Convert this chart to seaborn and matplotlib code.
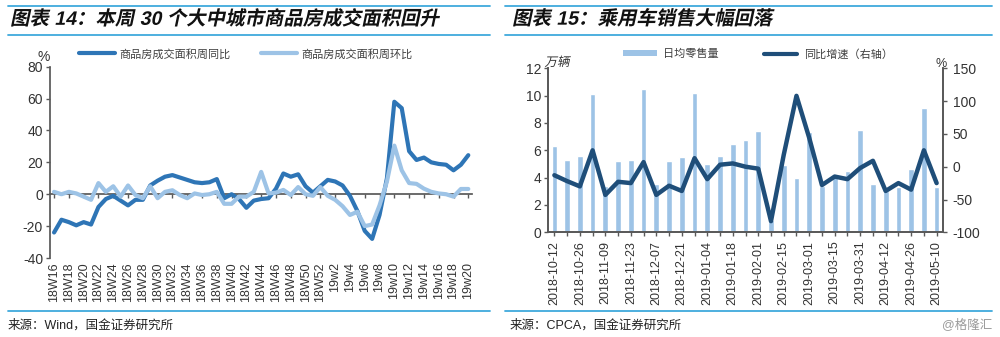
import numpy as np
import pandas as pd
import matplotlib
matplotlib.use("Agg")
import matplotlib.pyplot as plt
import seaborn as sns
from matplotlib.lines import Line2D
from matplotlib.patches import Patch
from matplotlib import patheffects
from matplotlib.transforms import Affine2D

# ---------------- data ----------------
weeks = [f"18W{w}" for w in range(16, 53)] + [f"19w{w}" for w in range(1, 21)]
yoy_area = [-24, -16, -17.5, -19.5, -17.5, -19, -8, -3, -1, -4,
            -7, -3.5, -3.5, 5.5, 8.5, 11, 12, 10.5, 9, 7.5,
            7, 7.5, 9.5, -2.5, 0, -3, -8.5, -4, -3, -2.5,
            3.5, 13, 11, 12.5, 5, 1, 5, 9, 8, 5.5,
            -1, -10.5, -23, -28, -13, 10, 58, 54, 27, 21.5,
            23, 20, 19, 18.5, 15, 18.5, 24.5]
wow_area = [1.5, 0, 1.5, 0.5, -1.5, -3.5, 7, 1.5, 5, -1.5,
            5.5, -0.5, -2.5, 5, -2.5, 1.5, 2.5, -0.5, -2.5, 0.5,
            -0.5, 0, 1.5, -6, -6, -1.5, -1.5, 1.5, 14, 0.5,
            1, 2.7, -0.5, 4.5, 0, -1, 4.5, -1, -3.5, -7.5,
            -13, -11, -20, -19, -7, 8, 30.5, 15, 7, 6.5,
            3.5, 1.5, 0.5, 0, -1.5, 3.3, 3.3]
left_series = ["商品房成交面积周同比", "商品房成交面积周环比"]
left_yticks = [-40, -20, 0, 20, 40, 60, 80]

dates = ["2018-10-12", "2018-10-19", "2018-10-26", "2018-11-02", "2018-11-09",
         "2018-11-16", "2018-11-23", "2018-11-30", "2018-12-07", "2018-12-14",
         "2018-12-21", "2018-12-28", "2019-01-04", "2019-01-11", "2019-01-18",
         "2019-01-25", "2019-02-01", "2019-02-08", "2019-02-15", "2019-02-22",
         "2019-03-01", "2019-03-08", "2019-03-15", "2019-03-22", "2019-03-31",
         "2019-04-07", "2019-04-12", "2019-04-19", "2019-04-26", "2019-05-03",
         "2019-05-10"]
daily_retail = [6.3, 5.3, 5.6, 10.1, 3.4, 5.2, 5.3, 10.5, 3.5, 5.2,
                5.5, 10.2, 5.0, 5.6, 6.45, 6.75, 7.4, 0.9, 4.95, 3.95,
                7.35, 3.4, 4.1, 4.45, 7.45, 3.5, 3.0, 3.35, 4.6, 9.1,
                3.3]
retail_yoy = [-13, -22, -30, 25, -43, -23, -25, 7, -43, -29,
              -37, 13, -19, 3, 5, 0, -3, -83, 18, 108,
              44, -28, -15, -19, -2, 9, -37, -25, -35, 25,
              -25]
right_series = ["日均零售量", "同比增速（右轴）"]
right_yticks_l = [0, 2, 4, 6, 8, 10, 12]
right_yticks_r = [-100, -50, 0, 50, 100, 150]

# ---------------- style ----------------
sns.set_theme(style="white")
plt.rcParams["font.family"] = ["Liberation Sans", "Noto Sans CJK SC", "DejaVu Sans"]
plt.rcParams["axes.unicode_minus"] = False

C_DARK = "#2E75B6"
C_LIGHT = "#9DC3E6"
C_NAVY = "#1F4E79"
C_RULE = "#3FA9DC"
C_TXT = "#333333"
C_AX = "#595959"


class Oblique(patheffects.AbstractPathEffect):
    def __init__(self, deg=12):
        super().__init__()
        self._skew = Affine2D().skew_deg(deg, 0)

    def draw_path(self, renderer, gc, tpath, affine, rgbFace=None):
        renderer.draw_path(gc, tpath, self._skew + affine, rgbFace)


fig = plt.figure(figsize=(10, 3.37), dpi=100)

def fx(px):
    return px / 1000.0

def fy(py):
    return 1 - py / 337.0

# ---------------- left chart ----------------
ax = fig.add_axes([fx(50), fy(258), fx(422), fy(66.7) - fy(258)])
n = len(weeks)
df_left = pd.DataFrame({
    "idx": list(range(n)) * 2,
    "value": yoy_area + wow_area,
    "series": [left_series[0]] * n + [left_series[1]] * n,
})
sns.lineplot(data=df_left, x="idx", y="value", hue="series",
             hue_order=left_series, palette=[C_DARK, C_LIGHT],
             linewidth=3, ax=ax, legend=False, zorder=3)
ax.set_xlim(-0.55, n - 0.5)
ax.set_ylim(-40, 80)
ax.set_yticks(left_yticks)
ax.set_yticklabels([str(v) for v in left_yticks])
ax.set_xlabel("")
ax.set_ylabel("")
for s in ["top", "right"]:
    ax.spines[s].set_visible(False)
ax.spines["left"].set_color(C_AX)
ax.spines["bottom"].set_color(C_AX)
ax.spines["bottom"].set_position(("data", 0))
ax.set_xticks(list(range(0, n, 2)))
ax.tick_params(axis="x", labelbottom=False, bottom=True, length=3, width=1,
               color=C_AX, direction="out")
ax.tick_params(axis="y", left=True, length=3, width=1, color=C_AX,
               labelsize=10, labelcolor=C_TXT, pad=2)
sec = ax.secondary_xaxis(0.0)
sec.set_xticks(list(range(0, n, 2)))
sec.set_xticklabels([weeks[i] for i in range(0, n, 2)], rotation=90)
sec.tick_params(length=0, labelsize=9, labelcolor=C_TXT, pad=3)
sec.spines["bottom"].set_visible(False)
fig.text(fx(44), fy(57), "%", ha="center", va="center", fontsize=10, color=C_TXT)

leg_l = fig.legend(handles=[Line2D([], [], color=C_DARK, lw=3),
                            Line2D([], [], color=C_LIGHT, lw=3)],
                   labels=left_series, loc="center",
                   bbox_to_anchor=(fx(246), fy(54)), ncol=2, frameon=False,
                   fontsize=8, handlelength=3.2, handletextpad=0.45,
                   columnspacing=2.7, labelcolor="#404040")

# ---------------- right chart ----------------
axr = fig.add_axes([fx(548), fy(232.3), fx(395), fy(68.3) - fy(232.3)])
m = len(dates)
sns.barplot(x=dates, y=daily_retail, color=C_LIGHT, saturation=1,
            width=0.45, ax=axr, zorder=2)
axr.set_ylim(0, 12)
axr.set_yticks(right_yticks_l)
axr.set_yticklabels([str(v) for v in right_yticks_l])
axr2 = axr.twinx()
sns.lineplot(x=list(range(m)), y=retail_yoy, color=C_NAVY, linewidth=3.2,
             ax=axr2, zorder=3)
axr2.set_ylim(-100, 150)
axr2.set_yticks(right_yticks_r)
axr2.set_yticklabels([str(v) for v in right_yticks_r])
axr.set_xlim(-0.5, m - 0.5)
axr.set_xticks(list(range(m)))
axr.set_xticklabels([d if i % 2 == 0 else "" for i, d in enumerate(dates)],
                    rotation=90)
for a in (axr, axr2):
    a.set_xlabel("")
    a.set_ylabel("")
    a.spines["top"].set_visible(False)
    for s in ["left", "right", "bottom"]:
        a.spines[s].set_color(C_AX)
axr.tick_params(axis="x", bottom=True, length=3, width=1, color=C_AX,
                labelsize=9, labelcolor=C_TXT, pad=3)
axr.tick_params(axis="y", left=True, length=3, width=1, color=C_AX,
                labelsize=10, labelcolor=C_TXT, pad=2)
axr2.tick_params(axis="y", right=True, length=3, width=1, color=C_AX,
                 labelsize=10, labelcolor=C_TXT, pad=4)
fig.text(fx(557), fy(63), "万辆", ha="center", va="center", fontsize=9,
         color=C_TXT, path_effects=[Oblique(12)])
fig.text(fx(941), fy(64), "%", ha="center", va="center", fontsize=9,
         color=C_TXT)

leg_r = fig.legend(handles=[Patch(facecolor=C_LIGHT, edgecolor="none"),
                            Line2D([], [], color=C_NAVY, lw=3)],
                   labels=right_series, loc="center",
                   bbox_to_anchor=(fx(758), fy(54)), ncol=2, frameon=False,
                   fontsize=8, handlelength=3.0, handleheight=0.45,
                   handletextpad=0.6, columnspacing=4.0, labelcolor="#404040")

# ---------------- titles, rules, footers ----------------
obl = [Oblique(12)]
fig.text(fx(10), fy(19), "图表 14：本周 30 个大中城市商品房成交面积回升",
         ha="left", va="center", fontsize=14, fontweight="bold",
         color="#111111", path_effects=obl)
fig.text(fx(512), fy(19), "图表 15：乘用车销售大幅回落",
         ha="left", va="center", fontsize=14, fontweight="bold",
         color="#111111", path_effects=obl)

for (x0, x1) in [(8, 490), (505, 992)]:
    for y in (5.7, 35, 310.7):
        fig.add_artist(Line2D([fx(x0), fx(x1)], [fy(y), fy(y)],
                              color=C_RULE, lw=1.3, transform=fig.transFigure))

fig.text(fx(8), fy(325), "来源：Wind，国金证券研究所", ha="left", va="center",
         fontsize=9, color="#222222")
fig.text(fx(510), fy(325), "来源：CPCA，国金证券研究所", ha="left", va="center",
         fontsize=9, color="#222222")
fig.text(fx(992), fy(325), "@格隆汇", ha="right", va="center",
         fontsize=9, color="#9a9a9a")

fig.savefig("out.png", dpi=100)
